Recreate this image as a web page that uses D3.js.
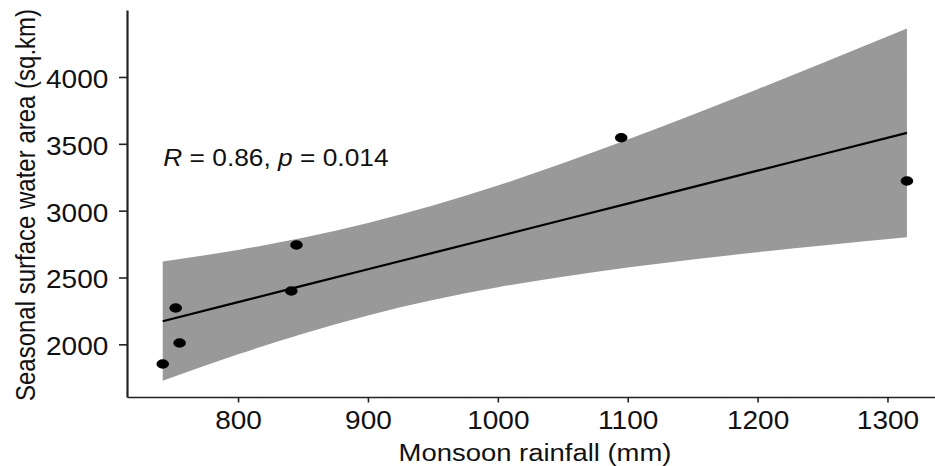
<!DOCTYPE html>
<html>
<head>
<meta charset="utf-8">
<script src="https://cdn.jsdelivr.net/npm/d3@7"></script>
<style>
  body { margin: 0; background: #fff; }
  svg { display: block; }
</style>
</head>
<body>
<div id="chart"></div>
<script>
// observed points
const rainfall = [742, 752, 755, 841, 845, 1095, 1315];
const waterArea = [1853, 2272, 2010, 2399, 2743, 3545, 3222];

// fitted line + 95% band
const fitX = [742, 800, 850, 900, 950, 1000, 1050, 1100, 1150, 1200, 1250, 1315];
const fitY = [2173, 2316, 2439, 2562, 2684, 2807, 2930, 3053, 3176, 3299, 3422, 3582];
const fitLower = [1727, 1925, 2080, 2216, 2331, 2427, 2506, 2574, 2634, 2689, 2740, 2801];
const fitUpper = [2619, 2706, 2797, 2907, 3038, 3188, 3354, 3532, 3718, 3909, 4105, 4363];

const xTicks = [800, 900, 1000, 1100, 1200, 1300];
const yTicks = [2000, 2500, 3000, 3500, 4000];

const width = 935, height = 466;
const font = "'Liberation Sans', Arial, sans-serif";
const stretch = 1.12; // the reference is a bit wider than tall

var svg = d3.select('#chart')
    .append('svg')
    .attr('width', width)
    .attr('height', height);

//scales
var x = d3.scaleLinear()
    .domain([714.5, 1336.6])
    .range([127, 935]);
var y = d3.scaleLinear()
    .domain([1606, 4501])
    .range([397, 10]);

// band
var band = fitX.map((v, i) => ({x: v, lo: fitLower[i], hi: fitUpper[i], f: fitY[i]}));
svg.append('path')
    .datum(band)
    .attr('fill', '#999999')
    .attr('d', d3.area()
        .curve(d3.curveMonotoneX)
        .x(d => x(d.x))
        .y0(d => y(d.lo))
        .y1(d => y(d.hi)));

// regression line
svg.append('path')
    .datum(band)
    .attr('fill', 'none')
    .attr('stroke', '#000')
    .attr('stroke-width', 2.2)
    .attr('d', d3.line()
        .x(d => x(d.x))
        .y(d => y(d.f)));

// points
svg.selectAll('ellipse.pt')
    .data(rainfall.map((v, i) => ({x: v, y: waterArea[i]})))
    .enter()
    .append('ellipse')
    .attr('class', 'pt')
    .attr('cx', d => x(d.x))
    .attr('cy', d => y(d.y))
    .attr('rx', 6.3)
    .attr('ry', 4.7)
    .attr('fill', '#000');

// y axis
var gy = svg.append('g')
    .attr('transform', 'translate(127,0)')
    .call(d3.axisLeft(y).tickValues(yTicks).tickSize(8).tickSizeOuter(0).tickFormat(d3.format('d')));
gy.select('.domain').attr('stroke', '#222').attr('stroke-width', 2.2);
gy.selectAll('.tick line').attr('stroke', '#222').attr('stroke-width', 1.6);
gy.selectAll('.tick text')
    .attr('font-family', font)
    .attr('font-size', 25)
    .attr('fill', '#111')
    .attr('x', -18.7 / stretch)
    .attr('dy', '0.42em')
    .attr('transform', `scale(${stretch},1)`);

// x axis
var gx = svg.append('g')
    .attr('transform', 'translate(0,397)')
    .call(d3.axisBottom(x).tickValues(xTicks).tickSize(5.5).tickSizeOuter(0).tickPadding(9).tickFormat(d3.format('d')));
gx.select('.domain').attr('stroke', '#222').attr('stroke-width', 1.6);
gx.selectAll('.tick line').attr('stroke', '#222').attr('stroke-width', 1.6);
gx.selectAll('.tick text')
    .attr('font-family', font)
    .attr('font-size', 25)
    .attr('fill', '#111')
    .attr('transform', `scale(${stretch},1)`);

// axis titles
svg.append('text')
    .attr('transform', `translate(535,460.5) scale(${stretch},1)`)
    .attr('text-anchor', 'middle')
    .attr('font-family', font)
    .attr('font-size', 24.5)
    .attr('fill', '#111')
    .text('Monsoon rainfall (mm)');

svg.append('text')
    .attr('transform', `translate(35,205) scale(1.15,1) rotate(-90)`)
    .attr('text-anchor', 'middle')
    .attr('font-family', font)
    .attr('font-size', 24)
    .attr('fill', '#111')
    .text('Seasonal surface water area (sq.km)');

// correlation label
var lab = svg.append('text')
    .attr('transform', `translate(163.3,166) scale(${stretch},1)`)
    .attr('font-family', font)
    .attr('font-size', 23.5)
    .attr('fill', '#111');
lab.append('tspan').attr('font-style', 'italic').text('R');
lab.append('tspan').text(' = 0.86, ');
lab.append('tspan').attr('font-style', 'italic').text('p');
lab.append('tspan').text(' = 0.014');
</script>
</body>
</html>
